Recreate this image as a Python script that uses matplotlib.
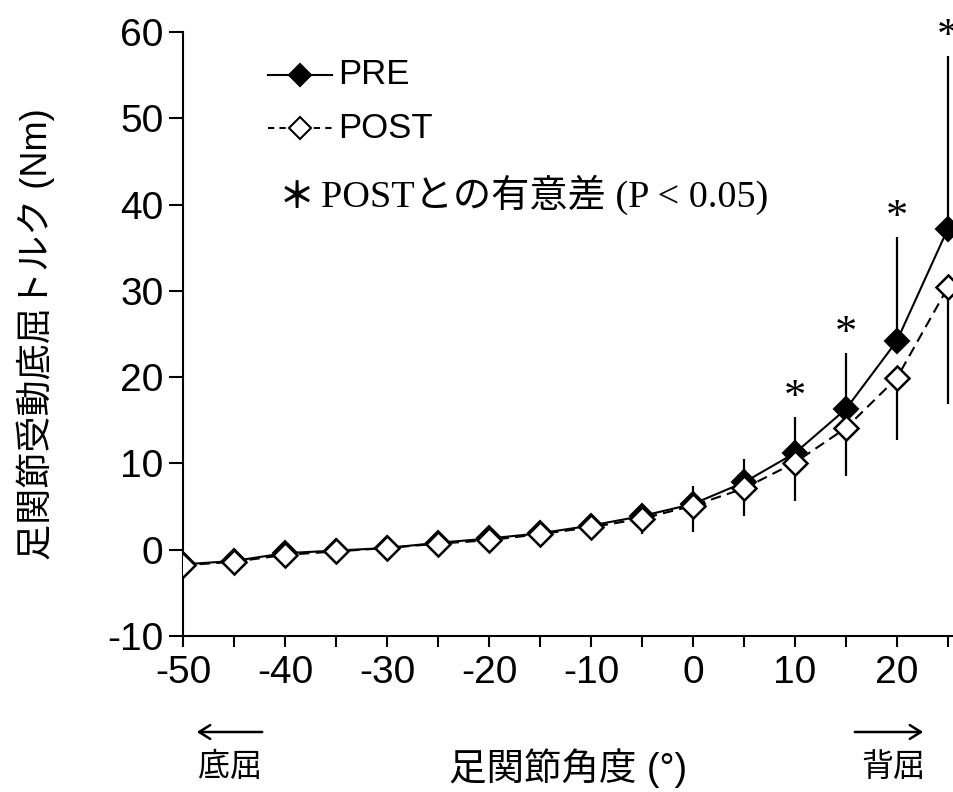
import matplotlib
matplotlib.use("Agg")
import matplotlib.pyplot as plt
from matplotlib.ticker import MultipleLocator

plt.rcParams['font.family'] = ['Liberation Sans', 'Noto Sans CJK JP']
plt.rcParams['axes.unicode_minus'] = False

# ankle angle (deg) and passive plantarflexion torque (Nm)
angle = [-50, -45, -40, -35, -30, -25, -20, -15, -10, -5, 0, 5, 10, 15, 20, 25]
pre = [-1.7, -1.3, -0.4, -0.1, 0.2, 0.8, 1.3, 1.9, 2.8, 3.9, 5.3, 7.8, 11.2, 16.3, 24.2, 37.2]
post = [-1.8, -1.4, -0.6, -0.2, 0.2, 0.7, 1.1, 1.8, 2.6, 3.6, 5.1, 7.1, 10.1, 14.1, 19.9, 30.4]
pre_sd = [0.5, 0.5, 0.6, 0.6, 0.6, 0.7, 0.7, 0.8, 0.9, 1.4, 2.1, 2.7, 4.2, 6.5, 12.0, 20.0]
post_sd = [0.6, 0.6, 0.7, 0.7, 0.7, 0.8, 0.8, 0.9, 1.1, 1.8, 3.0, 3.2, 4.4, 5.5, 7.2, 13.5]
sig_angle = [10, 15, 20, 25]
xtick_vals = [-50, -40, -30, -20, -10, 0, 10, 20]

fig = plt.figure(figsize=(9.54, 7.92), dpi=100)
ax = fig.add_axes([183 / 954, 156 / 792, 771 / 954, 604 / 792])

# PRE: upper error bars, POST: lower error bars
ax.errorbar(angle, pre, yerr=[[0] * len(pre_sd), pre_sd], fmt='none', ecolor='black',
            elinewidth=1.6, capsize=0, zorder=2)
ax.errorbar(angle, post, yerr=[post_sd, [0] * len(post_sd)], fmt='none', ecolor='black',
            elinewidth=1.6, capsize=0, zorder=2)
ax.plot(angle, pre, '-', color='black', lw=1.5, marker='D', ms=12,
        mfc='black', mec='black', mew=1.5, zorder=3)
ax.plot(angle, post, '--', color='black', lw=1.5, dashes=(5, 3), marker='D', ms=12,
        mfc='white', mec='black', mew=1.8, zorder=4)

for a in sig_angle:
    i = angle.index(a)
    ax.text(a, pre[i] + pre_sd[i] + 2.2, '*', ha='center', va='center',
            fontsize=32, family='Liberation Serif', clip_on=False)

ax.set_xlim(-50, 25.6)
ax.set_ylim(-10, 60)
ax.set_xticks(xtick_vals)
ax.set_xticklabels([str(v) for v in xtick_vals])
ax.xaxis.set_minor_locator(MultipleLocator(5))
ax.yaxis.set_major_locator(MultipleLocator(10))
ax.spines['top'].set_visible(False)
ax.spines['right'].set_visible(False)
for s in ('left', 'bottom'):
    ax.spines[s].set_linewidth(1.5)
ax.tick_params(axis='both', which='both', direction='out', width=1.5, labelsize=28)
ax.tick_params(axis='y', length=10, pad=4)
ax.tick_params(axis='x', which='both', length=8, pad=6)

ax.set_ylabel('足関節受動底屈トルク (Nm)', fontsize=26, labelpad=38)

# legend drawn by hand
lx = [268, 300, 332]
fig_px = lambda x, y: (x / 954, 1 - y / 792)
for y, style, fc, dash in [(75, '-', 'black', None), (128, '--', 'white', (3, 2.5))]:
    xs = [fig_px(x, y)[0] for x in lx]
    ys = [fig_px(x, y)[1] for x in lx]
    line = plt.Line2D([xs[0], xs[2]], [ys[0], ys[2]], transform=fig.transFigure,
                      color='black', lw=1.5, linestyle=style)
    if dash:
        line.set_dashes(dash)
    fig.add_artist(line)
    fig.add_artist(plt.Line2D([xs[1]], [ys[1]], transform=fig.transFigure, marker='D',
                              ms=11, mfc=fc, mec='black', mew=1.5))
fig.text(*fig_px(338, 75), 'PRE', fontsize=25, va='center')
fig.text(*fig_px(338, 128), 'POST', fontsize=25, va='center')
fig.text(*fig_px(297, 197), '＊', fontsize=26, va='center', ha='center',
         family='Noto Sans CJK JP', weight='bold')
fig.text(*fig_px(321, 195), 'POSTとの有意差 (P < 0.05)', fontsize=27.5, va='center',
         family=['Liberation Serif', 'Noto Sans CJK JP'])

# x-axis caption with direction arrows
fig.text(*fig_px(568, 768), '足関節角度 (°)', fontsize=27, va='center', ha='center')
fig.text(*fig_px(230, 768), '底屈', fontsize=23, va='center', ha='center')
fig.text(*fig_px(893, 768), '背屈', fontsize=23, va='center', ha='center')
for x0, x1 in [(265, 194), (852, 926)]:
    fig.add_artist(matplotlib.patches.FancyArrowPatch(
        fig_px(x0, 732), fig_px(x1, 732), transform=fig.transFigure,
        arrowstyle='->,head_length=8,head_width=5', lw=1.8, color='black'))

fig.savefig('out.png', dpi=100)
